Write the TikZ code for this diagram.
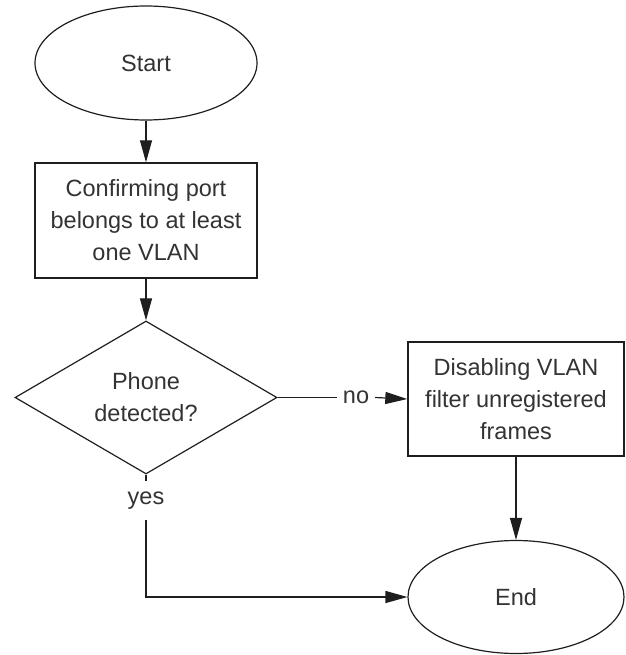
\documentclass[tikz,border=0pt]{standalone}
\usepackage{fontspec}
\setmainfont{Liberation Sans}
\usetikzlibrary{shapes.geometric,arrows.meta}
\definecolor{linec}{HTML}{1E1E1E}
\definecolor{textc}{HTML}{333333}
\tikzset{
  every node/.style={font=\fontsize{23.5}{32}\selectfont, text=textc, align=center},
  oval/.style={draw=linec, line width=1.2pt, ellipse, inner sep=0pt},
  procbox/.style={draw=linec, line width=1.4pt, rectangle, inner sep=0pt},
  decide/.style={draw=linec, line width=1.2pt, diamond, inner sep=0pt, aspect=1.71},
  conn/.style={draw=linec, line width=1.2pt},
  arr/.style={conn, -{Triangle[length=22pt,width=12pt]}},
  lbl/.style={inner sep=0pt}
}
\begin{document}
\begin{tikzpicture}[x=1pt,y=-1pt]
\useasboundingbox (0,0) rectangle (625,655);
\node[oval, minimum width=222pt, minimum height=114pt] (start) at (146,63) {Start};
\node[procbox, minimum width=222pt, minimum height=115pt] (confirm) at (146,220.5)
  {Confirming port\\belongs to at least\\one VLAN};
\node[decide, minimum width=262pt, minimum height=153pt] (phone) at (146,397.5)
  {Phone\\detected?};
\node[procbox, minimum width=216pt, minimum height=114pt] (disable) at (516,399)
  {Disabling VLAN\\filter unregistered\\frames};
\node[oval, minimum width=216pt, minimum height=113pt] (end) at (516,597) {End};
\node[lbl, minimum width=38pt] (no) at (356,397.5) {no};
\node[lbl, minimum height=39pt] (yes) at (146,500.5) {yes};
\draw[arr] (start) -- (confirm);
\draw[arr] (confirm) -- (phone);
\draw[conn] (phone.east) -- (no.west);
\draw[arr] (no.east) -- (disable.west);
\draw[arr] (disable) -- (end);
\draw[conn] (phone.south) -- (yes.north);
\draw[arr] (yes.south) |- (end.west);
\end{tikzpicture}
\end{document}
